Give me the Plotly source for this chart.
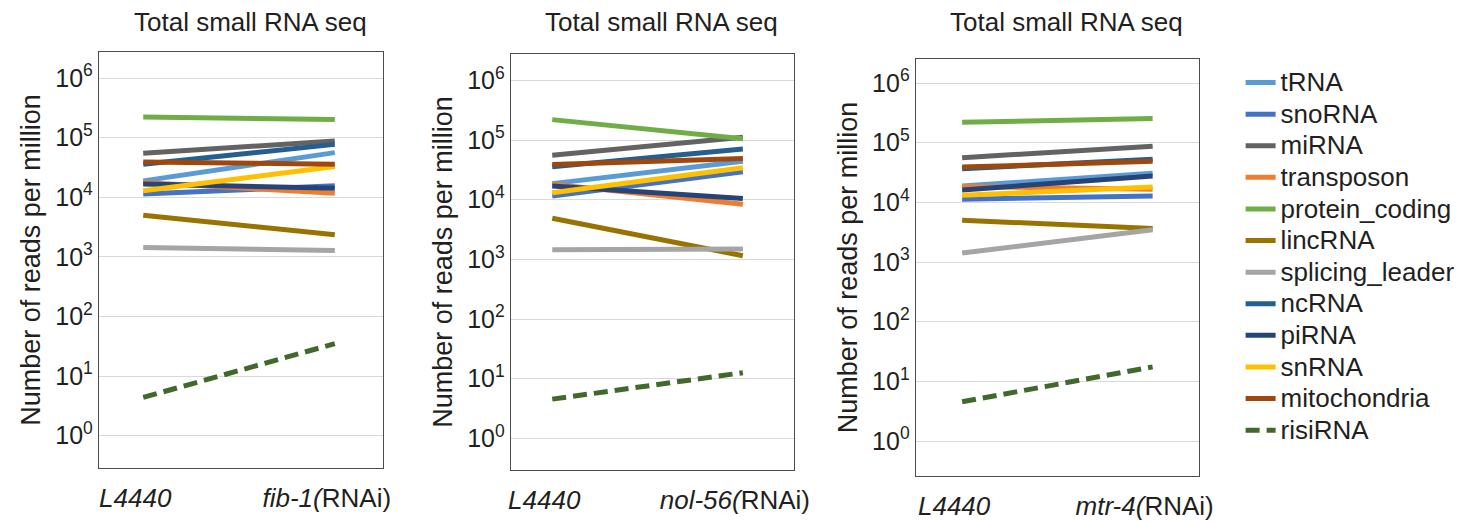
import plotly.graph_objects as go

W, H = 1466, 521

SERIES = ["tRNA", "snoRNA", "miRNA", "transposon", "protein_coding", "lincRNA",
          "splicing_leader", "ncRNA", "piRNA", "snRNA", "mitochondria", "risiRNA"]
COLORS = ["#5B9BD5", "#4472C4", "#636363", "#ED7D31", "#70AD47", "#997300",
          "#A5A5A5", "#255E91", "#264478", "#FFC000", "#9E480E", "#43682B"]
DASHES = ["solid"] * 11 + ["dash"]

PANEL_TITLE = "Total small RNA seq"
CONDITIONS = [["L4440", "fib-1(RNAi)"], ["L4440", "nol-56(RNAi)"], ["L4440", "mtr-4(RNAi)"]]
COND_TICKTEXT = [["<i>L4440</i>", "<i>fib-1(</i>RNAi)"],
                 ["<i>L4440</i>", "<i>nol-56(</i>RNAi)"],
                 ["<i>L4440</i>", "<i>mtr-4(</i>RNAi)"]]

# reads per million, series order as SERIES
FIB1_CTRL = [18800, 11300, 54600, 17700, 221000, 5000, 1430, 35700, 16600, 12800, 39000, 4.37]
FIB1_RNAI = [56000, 15500, 88000, 11700, 202000, 2350, 1270, 77000, 14200, 32700, 35700, 34.9]
NOL56_CTRL = [18600, 11500, 55700, 18100, 220000, 4900, 1450, 35700, 16900, 13100, 39000, 4.54]
NOL56_RNAI = [44000, 29400, 111000, 8400, 105000, 1150, 1490, 71000, 10500, 34300, 49000, 12.6]
MTR4_CTRL = [18800, 11300, 56000, 18500, 220000, 5000, 1410, 36700, 16100, 13100, 39000, 4.55]
MTR4_RNAI = [30600, 12800, 87000, 16600, 254000, 3650, 3460, 52500, 27600, 18100, 48600, 17.5]

PANELS = [(FIB1_CTRL, FIB1_RNAI), (NOL56_CTRL, NOL56_RNAI), (MTR4_CTRL, MTR4_RNAI)]

Y_TICKVALS = [1, 10, 100, 1000, 10000, 100000, 1000000]
Y_TICKTEXT = ["10<sup>0</sup>", "10<sup>1</sup>", "10<sup>2</sup>", "10<sup>3</sup>",
              "10<sup>4</sup>", "10<sup>5</sup>", "10<sup>6</sup>"]

# layout geometry (pixels)
FRAMES = [(98, 386, 52, 470), (515, 802, 54, 472), (925, 1212, 59, 478)]
YRANGES = [[-0.547, 6.44], [-0.534, 6.446], [-0.589, 6.406]]
XRANGES = [[-0.232, 1.253], [-0.218, 1.269], [-0.244, 1.244]]

FONT = "Liberation Sans, Arial, sans-serif"
TXT = "#231F20"

fig = go.Figure()
for p, (ctrl, rnai) in enumerate(PANELS):
    sfx = "" if p == 0 else str(p + 1)
    for i, s in enumerate(SERIES):
        fig.add_trace(go.Scatter(
            x=CONDITIONS[p], y=[ctrl[i], rnai[i]], mode="lines",
            name='<span style="font-size:26px">' + s + '</span>',
            legendgroup=s, showlegend=(p == 0),
            line=dict(color=COLORS[i], width=5, dash=("14px,7px" if DASHES[i] == "dash" else "solid")),
            xaxis="x" + sfx, yaxis="y" + sfx, hoverinfo="skip"))

layout = dict(
    width=W, height=H, margin=dict(l=0, r=0, t=0, b=0),
    paper_bgcolor="white", plot_bgcolor="white",
    font=dict(family=FONT, color=TXT, size=24),
    legend=dict(x=1254 / W, y=1 - 62 / H, xanchor="left", yanchor="top",
                font=dict(size=22, family=FONT, color=TXT), tracegroupgap=0,
                bgcolor="rgba(0,0,0,0)"),
    annotations=[],
)
for p in range(3):
    sfx = "" if p == 0 else str(p + 1)
    x0, x1, y0, y1 = FRAMES[p]
    layout["xaxis" + sfx] = dict(
        domain=[x0 / W, x1 / W], anchor="y" + sfx, type="category",
        range=XRANGES[p], tickvals=CONDITIONS[p], ticktext=COND_TICKTEXT[p],
        showgrid=False, showline=True, mirror=True, linecolor="#4D4D4D", linewidth=1,
        ticks="", ticklabelstandoff=7, ticklabelshift=-8,
        tickfont=dict(size=26, family=FONT, color=TXT), zeroline=False)
    layout["yaxis" + sfx] = dict(
        domain=[1 - y1 / H, 1 - y0 / H], anchor="x" + sfx, type="log",
        range=YRANGES[p], tickvals=Y_TICKVALS, ticktext=Y_TICKTEXT,
        showgrid=True, gridcolor="#D9D9D9", gridwidth=1,
        showline=True, mirror=True, linecolor="#4D4D4D", linewidth=1,
        ticks="", tickfont=dict(size=25, family=FONT, color=TXT),
        title=dict(text="Number of reads per million", font=dict(size=27, family=FONT, color=TXT), standoff=6),
        zeroline=False)
    layout["annotations"].append(dict(
        text=PANEL_TITLE, xref="x" + sfx + " domain", yref="paper",
        x=0.5, y=1 - 22 / H, xshift=9, showarrow=False, xanchor="center", yanchor="middle",
        font=dict(size=26, family=FONT, color=TXT)))

fig.update_layout(**layout)
fig.write_html("out.html")
